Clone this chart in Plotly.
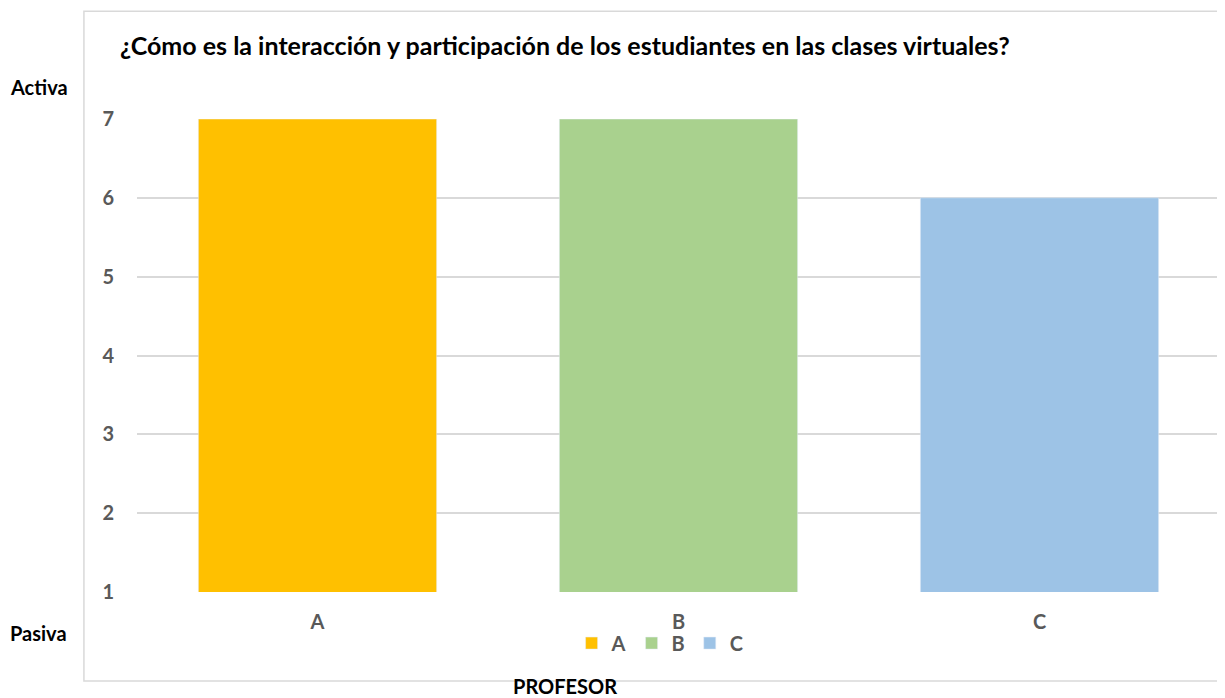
import plotly.graph_objects as go

categories = ["A", "B", "C"]
values = [7, 7, 6]
colors = ["#FFC000", "#A9D18E", "#9DC3E6"]
y_ticks = [1, 2, 3, 4, 5, 6, 7]

FONT = "Lato"
GRAY = "#595959"

fig = go.Figure()

# One trace per teacher so each gets a legend entry
for cat, val, col in zip(categories, values, colors):
    fig.add_trace(
        go.Bar(
            x=[cat],
            y=[val],
            name=cat,
            marker_color=col,
            width=0.66,
        )
    )

fig.update_xaxes(
    categoryorder="array",
    categoryarray=categories,
    showgrid=False,
    showline=False,
    ticks="outside",
    ticklen=12,
    tickcolor="rgba(0,0,0,0)",
    tickfont=dict(family=FONT, size=20, color=GRAY, weight="bold"),
    fixedrange=True,
)

fig.update_yaxes(
    range=[1, 7],
    tickvals=y_ticks,
    showgrid=True,
    gridcolor="#D9D9D9",
    gridwidth=1.5,
    zeroline=False,
    showline=False,
    ticks="outside",
    ticklen=18,
    tickcolor="rgba(0,0,0,0)",
    tickfont=dict(family=FONT, size=20, color=GRAY, weight="bold"),
    fixedrange=True,
)

# Chart area border
fig.add_shape(
    type="rect",
    xref="paper", yref="paper",
    x0=-0.049, x1=1.01, y0=-0.188, y1=1.228,
    line=dict(color="#D9D9D9", width=1.5),
    layer="below",
)

annotations = [
    dict(text="<b>¿Cómo es la interacción y participación de los estudiantes en las clases virtuales?</b>",
         x=-0.0175, y=1.156, xanchor="left", yanchor="middle", font=dict(size=25, color="black")),
    dict(text="<b>Activa</b>", x=-0.0905, y=1.068, xanchor="center", yanchor="middle",
         font=dict(size=20, color="black")),
    dict(text="<b>Pasiva</b>", x=-0.0905, y=-0.087, xanchor="center", yanchor="middle",
         font=dict(size=20, color="black")),
    dict(text="<b>PROFESOR</b>", x=0.395, y=-0.199, xanchor="center", yanchor="middle",
         font=dict(size=20, color="black")),
]
for a in annotations:
    a.update(xref="paper", yref="paper", showarrow=False)
    a["font"]["family"] = FONT
    fig.add_annotation(**a)

# page body has an 8px margin, so the figure is 8px smaller than the window
fig.update_layout(
    autosize=False,
    width=1217,
    height=690,
    margin=dict(l=129, r=5, t=111, b=106),
    plot_bgcolor="white",
    paper_bgcolor="white",
    bargap=0.34,
    showlegend=True,
    legend=dict(
        orientation="h",
        x=0.483, y=-0.108,
        xanchor="center", yanchor="middle",
        bgcolor="rgba(0,0,0,0)",
        font=dict(family=FONT, size=20, color=GRAY, weight="bold"),
        itemwidth=30,
        tracegroupgap=0,
    ),
)

fig.write_html("out.html")
